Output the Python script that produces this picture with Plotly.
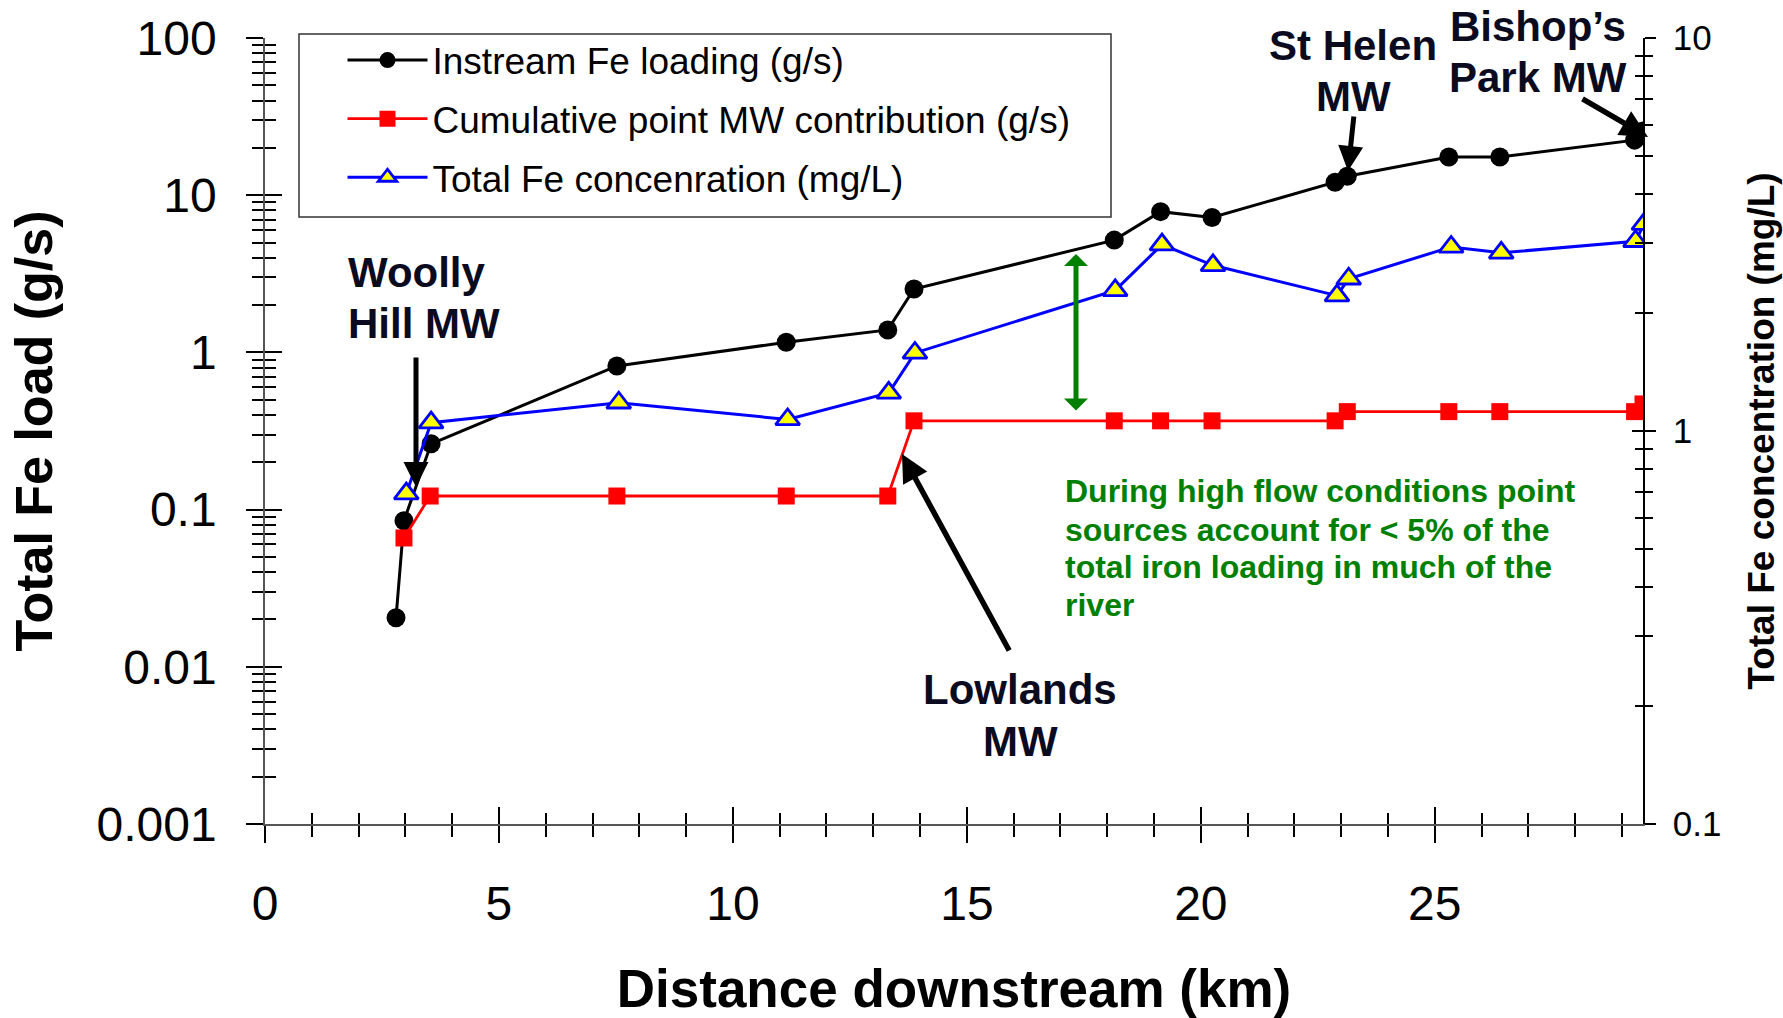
import plotly.graph_objects as go

# ---------------- data ----------------
dist_load = [2.80, 2.97, 3.55, 7.52, 11.14, 13.31, 13.87, 18.15, 19.14, 20.24, 22.87, 23.13, 25.30, 26.39, 29.27, 29.45]
instream_load = [0.0205, 0.085, 0.262, 0.82, 1.16, 1.39, 2.53, 5.18, 7.86, 7.22, 12.1, 13.2, 17.5, 17.5, 22.4, 25.6]

dist_mw = [2.97, 3.53, 7.52, 11.14, 13.31, 13.87, 18.15, 19.14, 20.24, 22.87, 23.13, 25.30, 26.39, 29.27, 29.45]
cum_mw = [0.066, 0.122, 0.122, 0.122, 0.122, 0.367, 0.367, 0.367, 0.367, 0.367, 0.42, 0.42, 0.42, 0.42, 0.47]

dist_conc = [3.02, 3.55, 7.56, 11.17, 13.33, 13.89, 18.17, 19.17, 20.26, 22.91, 23.16, 25.35, 26.42, 29.29, 29.47]
conc = [0.693, 1.05, 1.18, 1.07, 1.25, 1.58, 2.28, 2.98, 2.64, 2.21, 2.44, 2.94, 2.84, 3.04, 3.36]

x_ticks = [0, 5, 10, 15, 20, 25]
x_ticklabels = ["0", "5", "10", "15", "20", "25"]
load_ticks = [0.001, 0.01, 0.1, 1, 10, 100]
load_ticklabels = ["0.001", "0.01", "0.1", "1", "10", "100"]
conc_ticks = [0.1, 1, 10]
conc_ticklabels = ["0.1", "1", "10"]

names = ["Instream Fe loading (g/s)",
         "Cumulative point MW contribution (g/s)",
         "Total Fe concenration (mg/L)"]

# ---------------- layout helpers ----------------
W, H = 1783, 1018
L, R, T, B = 265, 140, 38, 194
PW, PH = W - L - R, H - T - B
FONT = "Liberation Sans, Arial, sans-serif"
NAVY = "#0b0b1f"
GREEN = "#008000"


def px(x):
    return (x - L) / PW


def py(y):
    return (H - B - y) / PH


fig = go.Figure()

fig.add_trace(go.Scatter(
    x=dist_load, y=instream_load, name=names[0], mode="lines+markers",
    line=dict(color="black", width=3),
    marker=dict(symbol="circle", size=19, color="black"),
    xaxis="x", yaxis="y", legendgroup="a"))
fig.add_trace(go.Scatter(
    x=dist_mw, y=cum_mw, name=names[1], mode="lines+markers",
    line=dict(color="#ff0000", width=2.8),
    marker=dict(symbol="square", size=17, color="#ff0000"),
    xaxis="x", yaxis="y", legendgroup="b"))
fig.add_trace(go.Scatter(
    x=dist_conc, y=conc, name=names[2], mode="lines+markers",
    line=dict(color="#0000ff", width=3),
    marker=dict(symbol="triangle-up", size=21, color="#ffff00",
                line=dict(color="#0000ff", width=2.8)),
    xaxis="x", yaxis="y2", legendgroup="c"))
# invisible helpers so the inner-tick overlay axes get drawn
fig.add_trace(go.Scatter(x=[None], y=[None], xaxis="x2", yaxis="y3",
                         showlegend=False, hoverinfo="skip"))
fig.add_trace(go.Scatter(x=[None], y=[None], xaxis="x", yaxis="y4",
                         showlegend=False, hoverinfo="skip"))

tickfont = dict(family=FONT, size=48, color="black")
axcommon = dict(showgrid=False, zeroline=False, tickwidth=1.5, tickcolor="black", automargin=False)

fig.update_layout(
    width=W, height=H,
    margin=dict(l=L, r=R, t=T, b=B, pad=0, autoexpand=False),
    plot_bgcolor="white", paper_bgcolor="white",
    showlegend=True,
    legend=dict(x=px(342.5), y=py(29.5), xanchor="left", yanchor="top",
                bgcolor="rgba(0,0,0,0)", borderwidth=0,
                font=dict(family=FONT, size=37, color="black"),
                itemwidth=80, tracegroupgap=7.5, traceorder="grouped"),
    shapes=[dict(type="rect", xref="paper", yref="paper",
                 x0=px(299), x1=px(1111), y0=py(34), y1=py(217),
                 line=dict(color="#333333", width=1.5), fillcolor="rgba(0,0,0,0)", layer="above")],
    xaxis=dict(range=[0, 29.45], tickmode="array", tickvals=x_ticks, ticktext=x_ticklabels,
               ticks="outside", ticklen=17, tickfont=tickfont, ticklabelstandoff=20,
               minor=dict(dtick=1, tick0=0, ticks="outside", ticklen=11, tickwidth=1.5, tickcolor="black"),
               showline=True, linecolor="#555555", linewidth=1.5, anchor="y",
               title=dict(text="Distance downstream (km)", standoff=43,
                          font=dict(family=FONT, size=53, color="black", weight="bold")),
               **axcommon),
    xaxis2=dict(range=[0, 29.45], overlaying="x", anchor="y", tickmode="array", tickvals=x_ticks,
                ticks="inside", ticklen=17, showticklabels=False, showline=False,
                minor=dict(dtick=1, tick0=0, ticks="inside", ticklen=11, tickwidth=1.5, tickcolor="black"),
                **axcommon),
    yaxis=dict(type="log", range=[-3, 2], tickmode="array", tickvals=load_ticks, ticktext=load_ticklabels,
               ticks="outside", ticklen=17, tickfont=tickfont, ticklabelstandoff=20,
               minor=dict(dtick="D1", ticks="outside", ticklen=11, tickwidth=1.5, tickcolor="black"),
               showline=True, linecolor="#555555", linewidth=1.5, anchor="x",
               title=dict(text="Total Fe load (g/s)", standoff=27,
                          font=dict(family=FONT, size=52, color="black", weight="bold")),
               **axcommon),
    yaxis3=dict(type="log", range=[-3, 2], overlaying="y", side="left", anchor="x",
                tickmode="array", tickvals=load_ticks, ticks="inside", ticklen=17,
                showticklabels=False, showline=False,
                minor=dict(dtick="D1", ticks="inside", ticklen=11, tickwidth=1.5, tickcolor="black"),
                **axcommon),
    yaxis2=dict(type="log", range=[-1, 1], overlaying="y", side="right", anchor="x",
                tickmode="array", tickvals=conc_ticks, ticktext=conc_ticklabels,
                ticks="outside", ticklen=11, ticklabelstandoff=10,
                tickfont=dict(family=FONT, size=35, color="black"),
                minor=dict(dtick="D1", ticks="outside", ticklen=8, tickwidth=1.5, tickcolor="black"),
                showline=True, linecolor="black", linewidth=1.5,
                title=dict(text="Total Fe concentration (mg/L)", standoff=28,
                           font=dict(family=FONT, size=37, color="black", weight="bold")),
                **axcommon),
    yaxis4=dict(type="log", range=[-1, 1], overlaying="y", side="right", anchor="x",
                tickmode="array", tickvals=conc_ticks, ticks="inside", ticklen=11,
                showticklabels=False, showline=False,
                minor=dict(dtick="D1", ticks="inside", ticklen=8, tickwidth=1.5, tickcolor="black"),
                **axcommon),
)

# ---------------- text annotations ----------------
lab = dict(family=FONT, size=42, color=NAVY, weight="bold")
texts = [
    ("Woolly", 346, 272, "left"), ("Hill MW", 346, 323, "left"),
    ("St Helen", 1353, 46, "center"), ("MW", 1353, 96, "center"),
    ("Bishop\u2019s", 1538, 27, "center"), ("Park MW", 1538, 77, "center"),
    ("Lowlands", 1020, 689, "center"), ("MW", 1020, 741, "center"),
]
for t, x, y, anc in texts:
    fig.add_annotation(text=t, x=px(x), y=py(y), xref="paper", yref="paper",
                       xanchor=anc, yanchor="middle", showarrow=False, font=lab)

green_lines = ["During high flow conditions point",
               "sources account for < 5% of the",
               "total iron loading in much of the",
               "river"]
for t, y in zip(green_lines, [491, 530, 567, 605]):
    fig.add_annotation(text=t, x=px(1063), y=py(y), xref="paper", yref="paper",
                       xanchor="left", yanchor="middle", showarrow=False,
                       font=dict(family=FONT, size=32, color=GREEN, weight="bold"))

# ---------------- arrows (tip, tail in pixels) ----------------
arrows = [
    ((416, 487), (416, 356), 5),
    ((1348, 171), (1354, 115), 5),
    ((1648, 137), (1581, 98), 5.5),
    ((902, 454), (1010, 652), 5.5),
]
for (tx, ty), (sx, sy), w in arrows:
    fig.add_annotation(text="", x=px(tx), y=py(ty), xref="paper", yref="paper",
                       ax=sx - tx, ay=sy - ty, showarrow=True,
                       arrowhead=2, arrowsize=1.0, arrowwidth=w, arrowcolor="black")

fig.add_annotation(text="", x=px(1076), y=py(254), xref="paper", yref="paper",
                   ax=0, ay=412 - 254, showarrow=True, arrowside="end+start",
                   arrowhead=1, startarrowhead=1, arrowsize=0.8, startarrowsize=0.8,
                   arrowwidth=5, arrowcolor=GREEN)

fig.write_html("out.html")
